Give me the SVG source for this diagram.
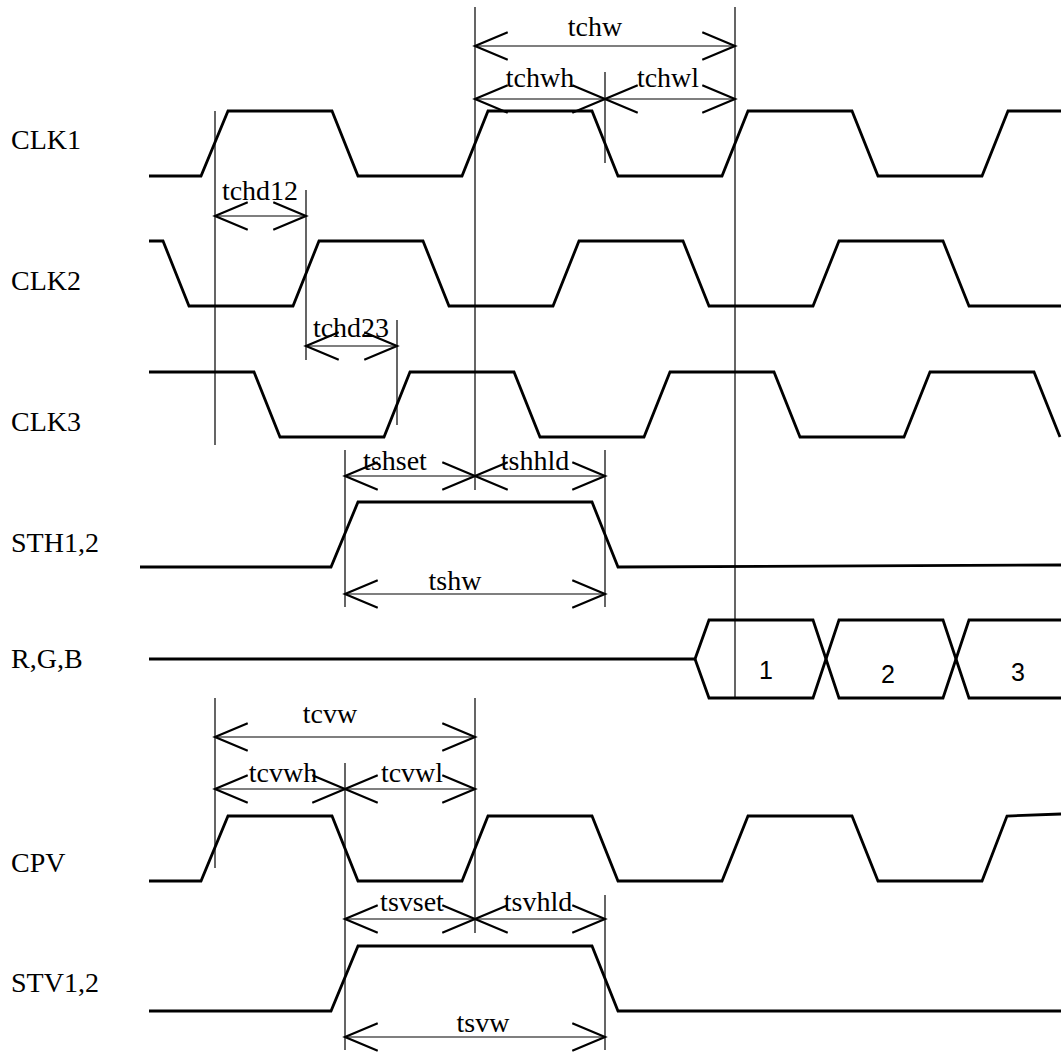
<svg xmlns="http://www.w3.org/2000/svg" width="1064" height="1052" viewBox="0 0 1064 1052">
<defs>
<style>
.sig{fill:none;stroke:#000;stroke-width:2.8;stroke-linejoin:miter}
.thin{fill:none;stroke:#000;stroke-width:1.2}
.dim{fill:none;stroke:#000;stroke-width:1.2;marker-start:url(#arr);marker-end:url(#arr)}
.lbl{font-family:"Liberation Serif","Times New Roman",serif;font-size:28px;fill:#000}
.dl{font-family:"Liberation Serif","Times New Roman",serif;font-size:28px;fill:#000;text-anchor:middle}
.num{font-family:"Liberation Sans",Arial,sans-serif;font-size:25px;fill:#000;text-anchor:middle}
</style>
<marker id="arr" markerUnits="userSpaceOnUse" markerWidth="40" markerHeight="40" viewBox="-20 -10 22 20" refX="0" refY="0" orient="auto-start-reverse" overflow="visible">
<path d="M-18,-7.5 L0,0 L-18,7.5" fill="none" stroke="#000" stroke-width="1.2"/>
</marker>
</defs>
<rect width="1064" height="1052" fill="#fff"/>

<g id="labels">
<text class="lbl" x="11" y="149">CLK1</text>
<text class="lbl" x="11" y="290">CLK2</text>
<text class="lbl" x="11" y="431">CLK3</text>
<text class="lbl" x="11" y="552">STH1,2</text>
<text class="lbl" x="11" y="668">R,G,B</text>
<text class="lbl" x="11" y="872">CPV</text>
<text class="lbl" x="11" y="992">STV1,2</text>
</g>

<g id="clk1"><path class="sig" d="M149,176 L201,176 L228,111 L332,111 L358,176 L462,176 L488,111 L592,111 L618,176 L722,176 L748,111 L852,111 L878,176 L982,176 L1008,111 L1061,111"/></g>
<g id="clk2"><path class="sig" d="M149,241 L163,241 L189,306 L293,306 L319,241 L423,241 L449,306 L553,306 L579,241 L683,241 L709,306 L813,306 L839,241 L943,241 L969,306 L1061,306"/></g>
<g id="clk3"><path class="sig" d="M149,372 L254,372 L280,437 L384,437 L410,372 L514,372 L540,437 L644,437 L670,372 L774,372 L800,437 L904,437 L930,372 L1034,372 L1060,437"/></g>
<g id="sth"><path class="sig" d="M140,567 L331,567 L358,502 L592,502 L618,567 L1061,565"/></g>
<g id="rgb">
<path class="sig" d="M149,659 L695,659 L709,620 L813,620 L839,698 L943,698 L969,620 L1061,620"/>
<path class="sig" d="M695,659 L709,698 L813,698 L839,620 L943,620 L969,698 L1061,698"/>
<text class="num" x="766" y="679">1</text>
<text class="num" x="888" y="683">2</text>
<text class="num" x="1018" y="681">3</text>
</g>
<g id="cpv"><path class="sig" d="M149,881 L201,881 L228,816 L332,816 L358,881 L462,881 L488,816 L592,816 L618,881 L722,881 L748,816 L852,816 L878,881 L982,881 L1007,816 L1061,814"/></g>
<g id="stv"><path class="sig" d="M149,1011 L331,1011 L358,946 L592,946 L618,1011 L1061,1011"/></g>

<g id="connectors">
<path class="thin" d="M475,7 V490 M735,7 V698 M605,72 V163 M215,111 V445 M306,190 V360 M397,320 V425 M345,450 V607 M605,450 V607 M215,698 V868 M475,698 V933 M345,763 V1050 M605,895 V1050"/>
<path class="dim" d="M475,46 H735"/>
<path class="dim" d="M475,99 H605"/>
<path class="dim" d="M605,99 H735"/>
<path class="dim" d="M215,216 H306"/>
<path class="dim" d="M306,346 H397"/>
<path class="dim" d="M345,476 H475"/>
<path class="dim" d="M475,476 H605"/>
<path class="dim" d="M345,594 H605"/>
<path class="dim" d="M215,737 H475"/>
<path class="dim" d="M215,789 H345"/>
<path class="dim" d="M345,789 H475"/>
<path class="dim" d="M345,919 H475"/>
<path class="dim" d="M475,919 H605"/>
<path class="dim" d="M345,1037 H605"/>
</g>

<g id="dimlabels">
<text class="dl" x="595" y="36">tchw</text>
<text class="dl" x="540" y="87">tchwh</text>
<text class="dl" x="668" y="87">tchwl</text>
<text class="dl" x="260" y="200">tchd12</text>
<text class="dl" x="351" y="337">tchd23</text>
<text class="dl" x="395" y="470">tshset</text>
<text class="dl" x="535" y="470">tshhld</text>
<text class="dl" x="455" y="590">tshw</text>
<text class="dl" x="330" y="723">tcvw</text>
<text class="dl" x="283" y="782">tcvwh</text>
<text class="dl" x="412" y="782">tcvwl</text>
<text class="dl" x="412" y="911">tsvset</text>
<text class="dl" x="538" y="911">tsvhld</text>
<text class="dl" x="483" y="1032">tsvw</text>
</g>
</svg>
